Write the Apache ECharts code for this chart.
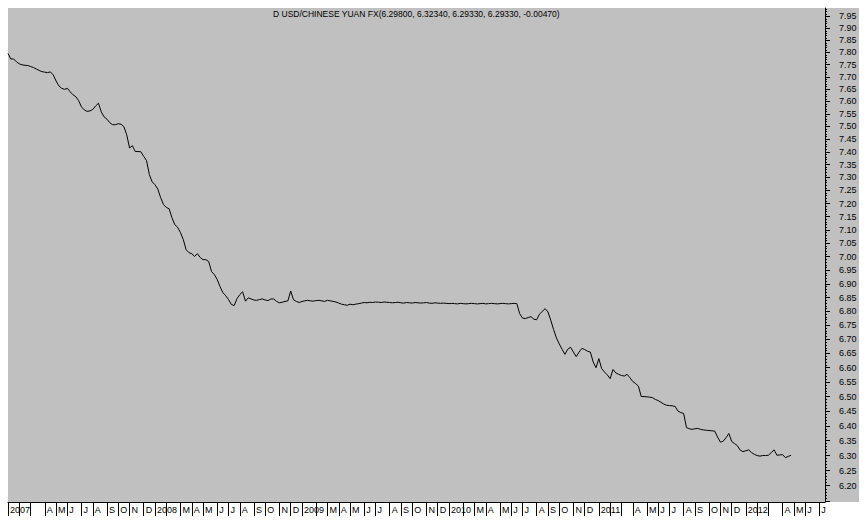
<!DOCTYPE html>
<html>
<head>
<meta charset="utf-8">
<script src="https://cdn.jsdelivr.net/npm/echarts@6/dist/echarts.min.js"></script>
<style>
html,body{margin:0;padding:0;background:#fff;}
#wrap{position:relative;width:868px;height:526px;}
#bg{position:absolute;left:8px;top:8px;width:851px;height:494px;background:#c0c0c0;}
#c{position:absolute;left:0;top:0;width:868px;height:526px;}
</style>
</head>
<body>
<div id="wrap"><div id="bg"></div><div id="c"></div></div>
<script>
// ---------------- data ----------------
const titleText = 'D USD/CHINESE YUAN FX(6.29800, 6.32340, 6.29330, 6.29330, -0.00470)';
const firstWeek = [2007, 0, 5];      // weekly closes (Fridays) from 2007-01-05
const weekCount = 290;               // axis runs to 2012-07-20
const monthLetters = ['J','F','M','A','M','J','J','A','S','O','N','D'];
const yMin = 6.1468, yMax = 7.9858;  // logarithmic price scale
const labelFrom = 6.20, labelTo = 7.95;

const v2007 = [7.796,7.773,7.773,7.761,7.753,7.749,7.747,7.746,7.742,7.738,
  7.732,7.726,7.721,7.719,7.717,7.720,7.708,7.683,7.663,7.653,
  7.649,7.653,7.639,7.627,7.619,7.603,7.578,7.566,7.560,7.562,
  7.568,7.582,7.593,7.558,7.538,7.529,7.515,7.507,7.507,7.511,
  7.509,7.499,7.467,7.415,7.424,7.401,7.401,7.400,7.382,7.366,
  7.311,7.283];
const v2008 = [7.272,7.255,7.222,7.196,7.185,7.180,7.146,7.120,7.110,7.090,
  7.064,7.026,7.015,7.011,7.001,7.011,6.997,6.989,6.989,6.982,
  6.945,6.934,6.916,6.890,6.868,6.857,6.843,6.825,6.821,6.846,
  6.861,6.871,6.837,6.849,6.845,6.841,6.840,6.843,6.845,6.841,
  6.839,6.845,6.845,6.836,6.831,6.833,6.836,6.838,6.874,6.842,
  6.836,6.832];
const v2009 = [6.836,6.838,6.840,6.838,6.837,6.839,6.840,6.838,6.836,6.840,
  6.838,6.836,6.834,6.830,6.826,6.824,6.822,6.826,6.824,6.826,
  6.828,6.830,6.832,6.831,6.833,6.832,6.834,6.833,6.832,6.834,
  6.833,6.832,6.831,6.832,6.833,6.831,6.830,6.832,6.831,6.830,
  6.832,6.831,6.830,6.831,6.832,6.830,6.829,6.831,6.830,6.829,
  6.830,6.829];
const v2010 = [6.828,6.829,6.828,6.827,6.829,6.828,6.827,6.828,6.829,6.828,
  6.827,6.828,6.829,6.827,6.828,6.829,6.828,6.827,6.828,6.829,
  6.828,6.827,6.828,6.829,6.828,6.792,6.776,6.774,6.778,6.781,
  6.772,6.770,6.790,6.800,6.810,6.798,6.768,6.735,6.705,6.684,
  6.665,6.647,6.665,6.672,6.655,6.639,6.655,6.668,6.664,6.658,
  6.655,6.620,6.600];
const v2011 = [6.632,6.597,6.585,6.575,6.562,6.594,6.582,6.577,6.573,6.571,
  6.577,6.565,6.552,6.545,6.536,6.500,6.500,6.499,6.498,6.496,
  6.490,6.486,6.480,6.474,6.470,6.469,6.468,6.466,6.450,6.445,
  6.442,6.394,6.390,6.388,6.390,6.391,6.388,6.386,6.385,6.384,
  6.383,6.382,6.362,6.345,6.348,6.360,6.374,6.347,6.340,6.333,
  6.318,6.313];
const v2012 = [6.316,6.319,6.310,6.304,6.300,6.298,6.300,6.300,6.301,6.310,
  6.319,6.301,6.302,6.303,6.293,6.297,6.301];

// ---------------- build ----------------
const values = [].concat(v2007, v2008, v2009, v2010, v2011, v2012);
const categories = [];
const tickShow = [];
const labelText = [];
let lastYearIdx = -100;
for (let i = 0; i < weekCount; i++) {
  const d = new Date(Date.UTC(firstWeek[0], firstWeek[1], firstWeek[2] + 7 * i));
  categories.push(d.toISOString().slice(0, 10));
  const isStart = d.getUTCDate() <= 7;
  tickShow.push(isStart);
  let t = '';
  if (isStart) {
    if (d.getUTCMonth() === 0) { t = String(d.getUTCFullYear()); lastYearIdx = i; }
    else if (i - lastYearIdx > 8) { t = monthLetters[d.getUTCMonth()]; }
  }
  labelText.push(t);
}
// tick marks for the log price scale, placed on a helper axis in log10 space
const L = Math.log10;
const minorTicks = [], majorTicks = [], labelTicks = [];
for (let k = Math.ceil(yMin * 100); k <= Math.floor(yMax * 100); k++) {
  minorTicks.push(L(k / 100));
  if (k % 5 === 0) {
    majorTicks.push(L(k / 100));
    if (k >= Math.round(labelFrom * 100) && k <= Math.round(labelTo * 100)) labelTicks.push(L(k / 100));
  }
}

const FONT = '"Liberation Sans", Arial, sans-serif';
const chart = echarts.init(document.getElementById('c'), null, {renderer: 'svg'});
chart.setOption({
  animation: false,
  backgroundColor: 'transparent',
  title: {
    text: titleText, left: 273, top: 9, padding: 0,
    textStyle: {fontSize: 8.5, fontWeight: 'normal', color: '#000', fontFamily: FONT}
  },
  grid: {left: 8, right: 43, top: 8, bottom: 24, show: false},
  xAxis: {
    type: 'category', data: categories, boundaryGap: false,
    axisLine: {show: true, lineStyle: {color: '#000', width: 1}},
    axisTick: {show: true, length: 14, interval: (i) => tickShow[i], lineStyle: {color: '#000', width: 1}},
    axisLabel: {
      interval: (i) => labelText[i] !== '', formatter: (v, i) => labelText[i],
      align: 'left', margin: 3, padding: [0, 0, 0, 2],
      fontSize: 9, color: '#000', fontFamily: FONT
    },
    splitLine: {show: false}
  },
  yAxis: [{
    // price axis used by the series (logarithmic)
    type: 'log', logBase: 10, position: 'right', min: yMin, max: yMax,
    axisLine: {show: false}, axisTick: {show: false}, axisLabel: {show: false},
    splitLine: {show: false}, minorTick: {show: false}, minorSplitLine: {show: false}
  }, {
    type: 'value', position: 'right', min: L(yMin), max: L(yMax),
    axisLine: {show: true, onZero: false, lineStyle: {color: '#000', width: 1}},
    axisTick: {show: true, length: 2, customValues: minorTicks, lineStyle: {color: '#000'}},
    axisLabel: {show: true, customValues: labelTicks, formatter: (v) => Math.pow(10, v).toFixed(2),
      margin: 14, fontSize: 9, color: '#000', fontFamily: FONT},
    splitLine: {show: false}
  }, {
    type: 'value', position: 'right', min: L(yMin), max: L(yMax),
    axisLine: {show: false},
    axisTick: {show: true, length: 5, customValues: majorTicks, lineStyle: {color: '#000'}},
    axisLabel: {show: false},
    splitLine: {show: false}
  }],
  series: [{
    type: 'line', data: values, yAxisIndex: 0, showSymbol: false, symbol: 'none',
    lineStyle: {color: '#000', width: 1}, silent: true
  }]
});
</script>
</body>
</html>
